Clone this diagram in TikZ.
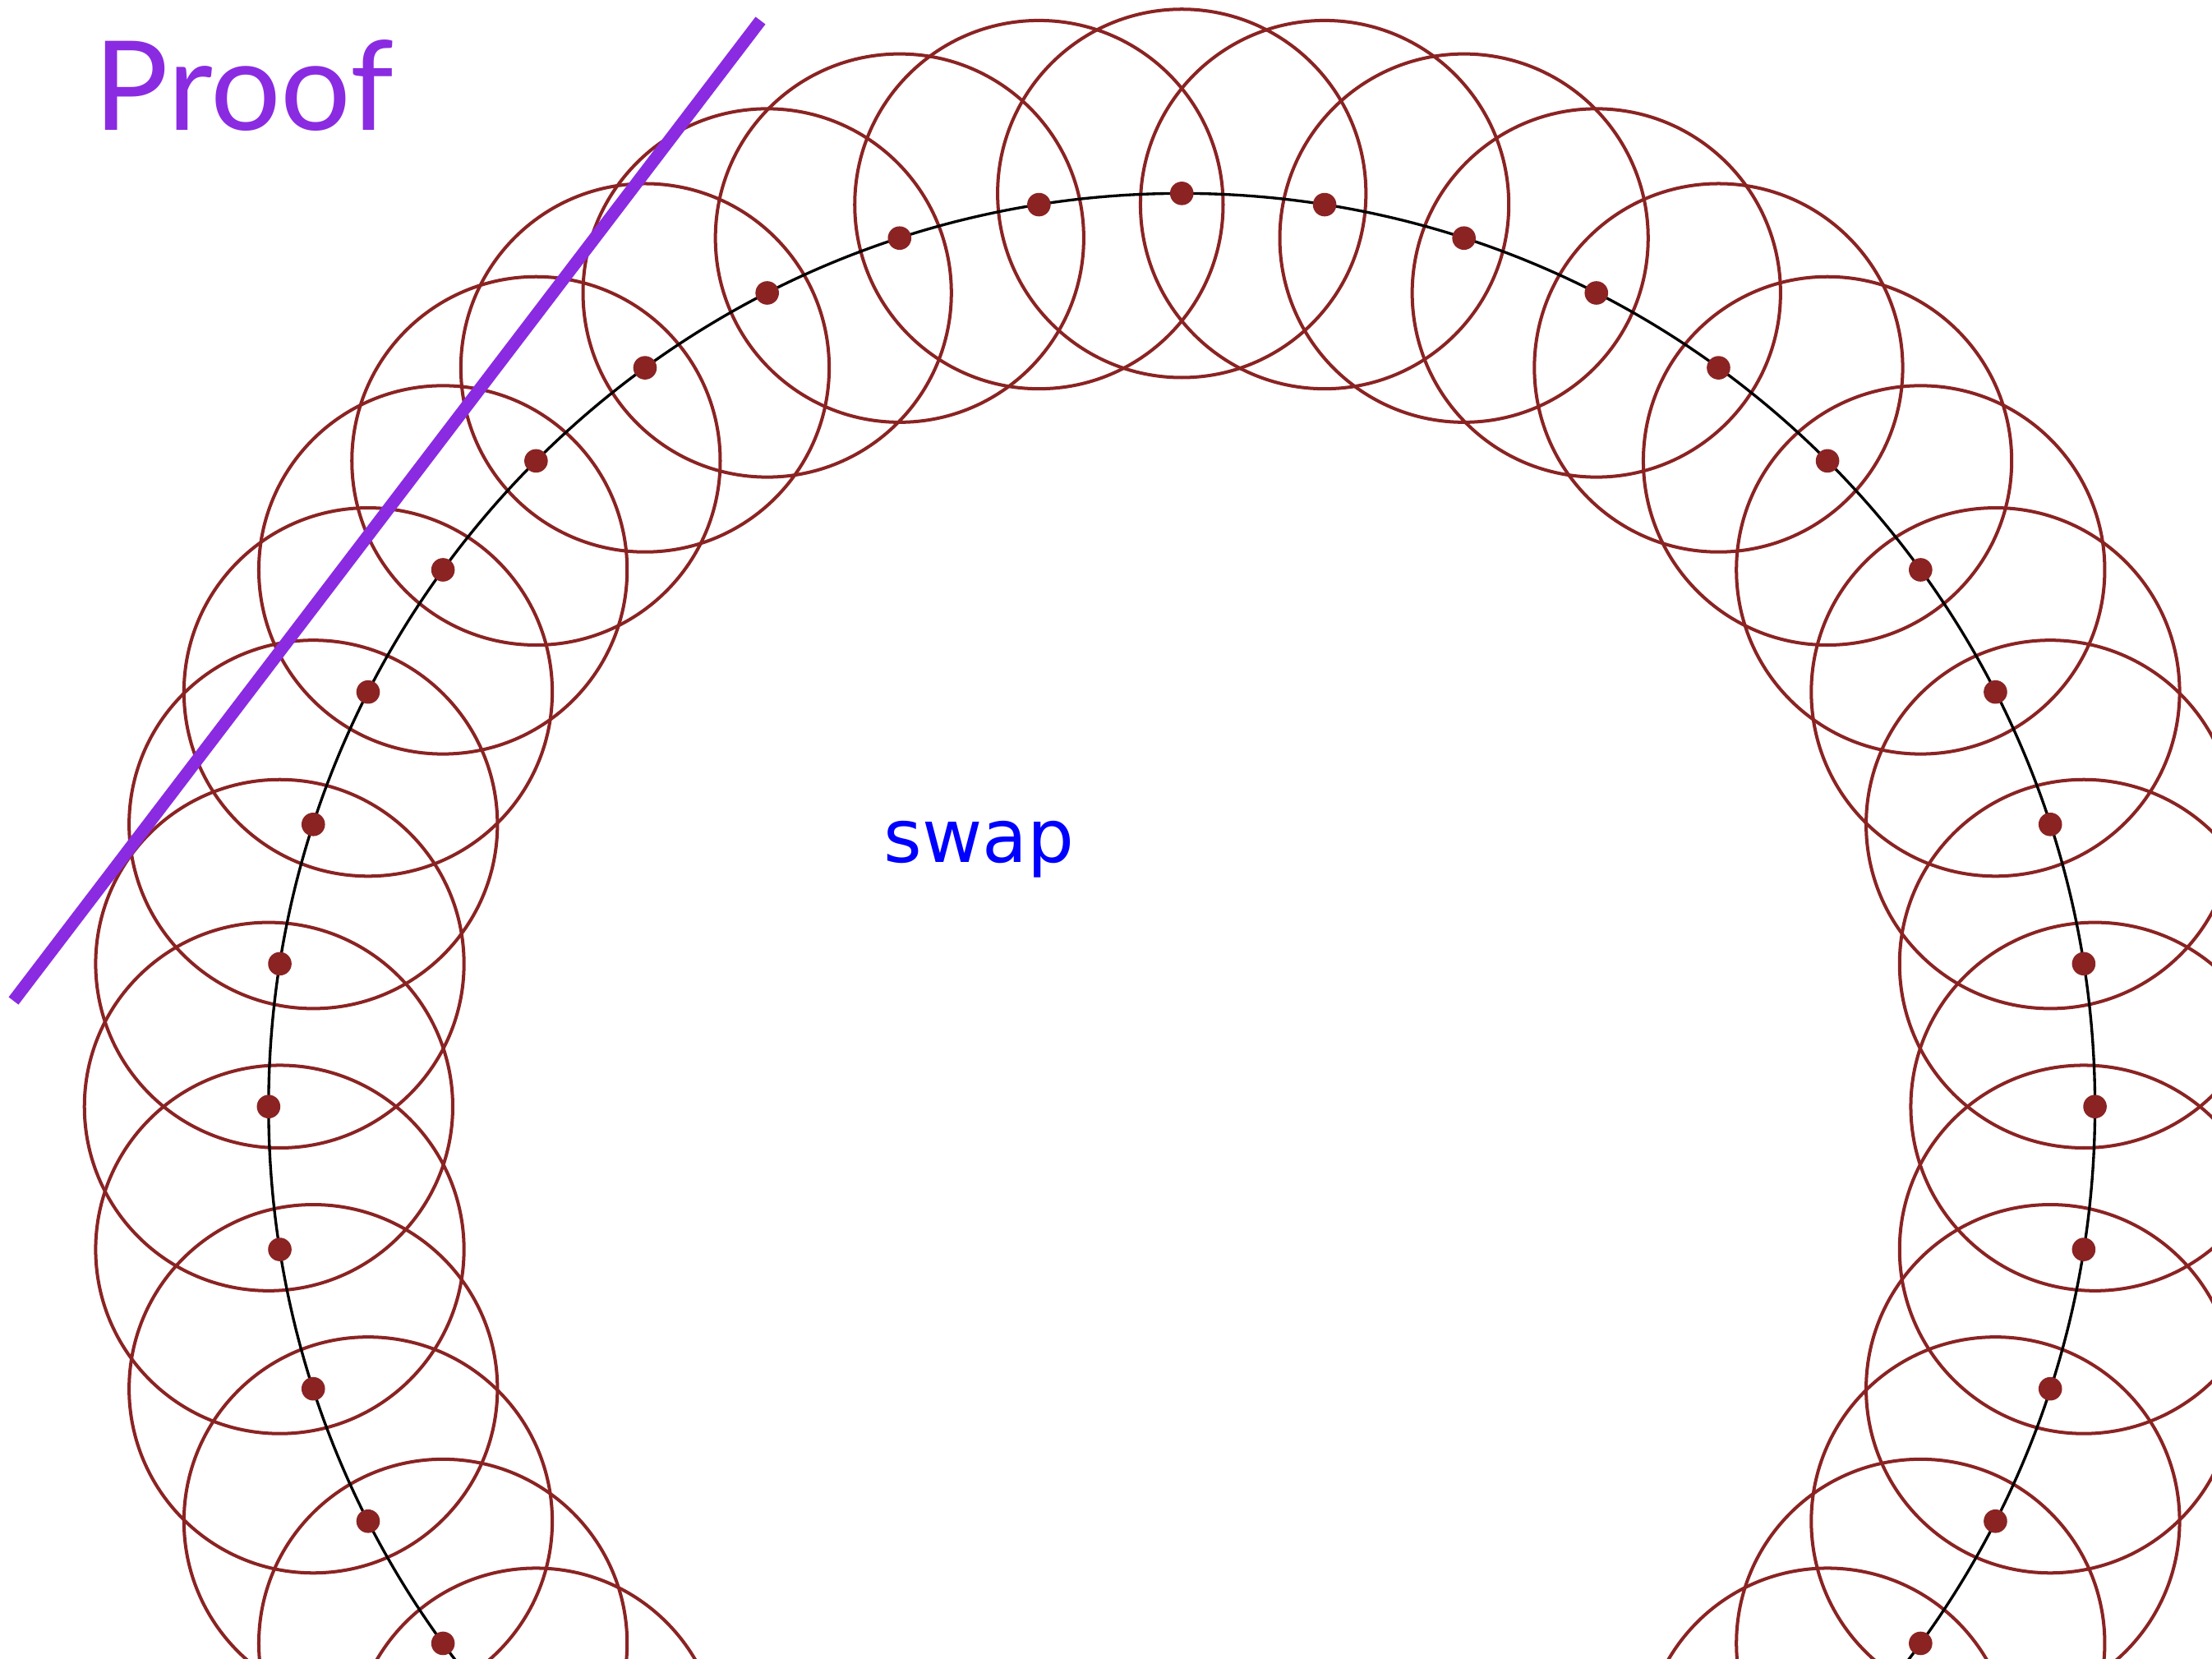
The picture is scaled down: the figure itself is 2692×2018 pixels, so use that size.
\documentclass[tikz,border=0pt]{standalone}
\usepackage{fontspec}
\newfontfamily\prooffont{Lato}
\newfontfamily\swapfont{DejaVu Sans}
\definecolor{dotred}{RGB}{139,35,35}
\definecolor{proofpurple}{RGB}{138,43,226}
\begin{document}
\begin{tikzpicture}[x=0.01cm,y=-0.01cm,
  ring/.style={draw=dotred,line width=1.14pt},
  track/.style={draw=black,line width=0.95pt},
  dotnode/.style={circle,fill=dotred,draw=none,inner sep=0pt,minimum size=0.286cm},
  slash/.style={draw=proofpurple,line width=4.27pt},
  titletext/.style={anchor=base west,inner sep=0pt,text=proofpurple,font=\prooffont\fontsize{43}{47}\selectfont},
  labeltext/.style={anchor=base west,inner sep=0pt,text=blue,font=\swapfont\fontsize{25.5}{28}\selectfont}]
\useasboundingbox (0,0) rectangle (2692,2018);
\clip (0,0) rectangle (2692,2018);
\coordinate (c) at (1438.2,1346.7);
\foreach \i in {0,...,39} {
  \pgfmathsetmacro\ang{90+9*\i}
  \coordinate (q\i) at ([shift={(\ang:11.107cm)}]c);
}
\foreach \i in {0,...,39} {
  \draw[ring] (q\i) circle[radius=2.24cm];
}
\draw[track] (c) circle[radius=11.107cm];
\foreach \i in {0,...,39} {
  \node[dotnode] (p\i) at (q\i) {};
}
\coordinate (la) at (16.5,1218);
\coordinate (lb) at (925.5,25);
\draw[slash] (la) -- (lb);
\node[titletext] (proof) at (114,158) {Proof};
\node[labeltext] (swap) at (1075,1049) {swap};
\end{tikzpicture}
\end{document}
